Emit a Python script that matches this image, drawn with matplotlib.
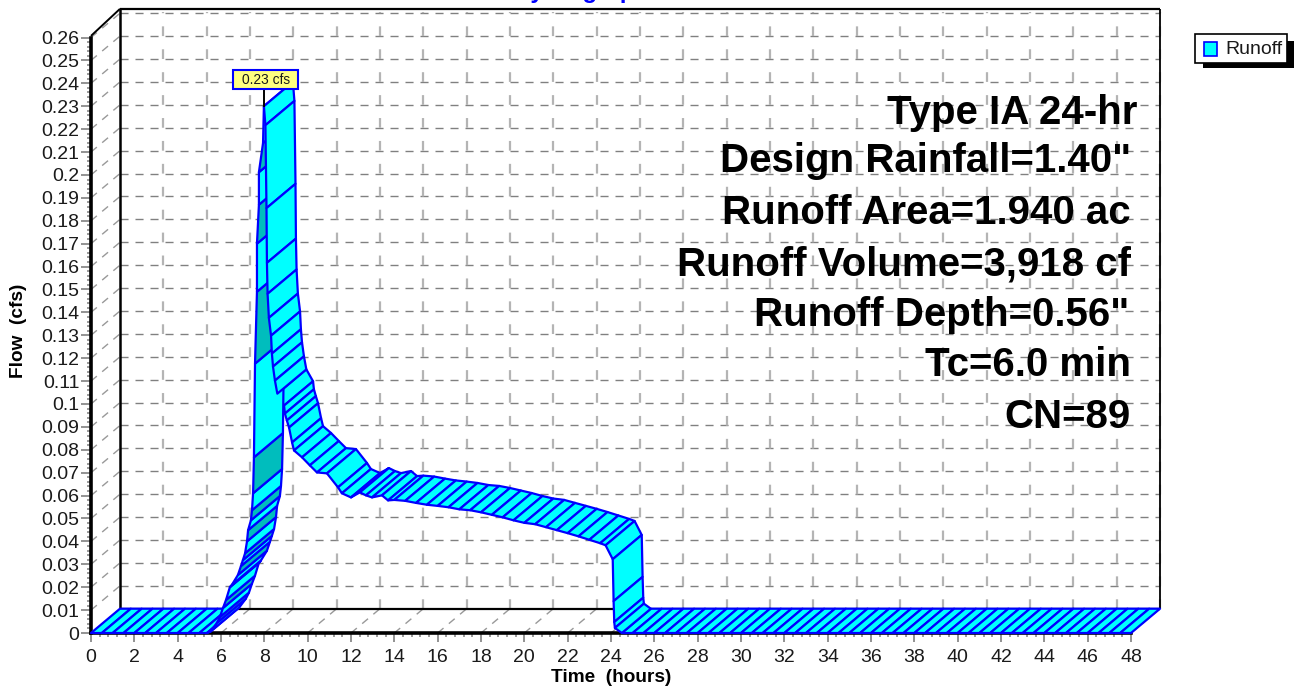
import matplotlib
matplotlib.use("Agg")
import matplotlib.pyplot as plt
from matplotlib.patches import Rectangle

plt.rcParams['font.family'] = ['Liberation Sans', 'DejaVu Sans']
plt.rcParams['lines.scale_dashes'] = False

# ---- data (hours, cfs) ----
flat_start_t = [0.0, 0.5, 1.0, 1.5, 2.0, 2.5, 3.0, 3.5, 4.0, 4.5, 5.0, 5.35]
flat_start_q = [0.0] * 12

rise_t = [5.35, 5.5, 5.81, 5.95, 6.09, 6.23, 6.41, 6.5, 6.78, 6.92, 7.01, 7.11, 7.2, 7.25, 7.38, 7.43,
          7.48, 7.52, 7.57, 7.66, 7.66, 7.75, 7.75, 7.94, 7.98]
rise_q = [0.0, 0.0005, 0.0044, 0.007, 0.0109, 0.0144, 0.020, 0.021, 0.0253, 0.0292, 0.0318, 0.0348, 0.040, 0.0449,
          0.0492, 0.0536, 0.061, 0.0767, 0.1176, 0.149, 0.17, 0.187, 0.2012, 0.2139, 0.23]

fall_t = [7.98, 8.05, 8.1, 8.12, 8.15, 8.21, 8.31, 8.35, 8.4, 8.49, 8.6]
fall_q = [0.23, 0.2217, 0.1855, 0.1616, 0.1481, 0.1376, 0.1298, 0.122, 0.1163, 0.1102, 0.1045]

tail_t = [8.6, 8.91, 8.95, 9.04, 9.14, 9.28, 9.37, 9.74, 10.1, 10.43, 10.89, 11.4, 11.58, 12.0, 12.41, 12.69,
          12.97, 13.43, 13.71, 14.0, 14.5, 15.0, 15.5, 16.0, 16.5, 17.0, 17.5, 18.0, 18.5, 19.0, 19.5, 20.0,
          20.5, 21.0, 21.5, 22.0, 22.5, 23.0, 23.5, 23.75, 24.08, 24.12, 24.15, 24.18, 24.5]
tail_q = [0.1045, 0.0993, 0.0958, 0.0928, 0.0897, 0.0832, 0.0797, 0.0767, 0.0732, 0.0701, 0.0697, 0.0636, 0.061,
          0.0592, 0.0614, 0.0601, 0.0592, 0.0601, 0.0579, 0.0581, 0.0577, 0.0568, 0.056, 0.0555, 0.0549, 0.054,
          0.0536, 0.0527, 0.0516, 0.0505, 0.0492, 0.0481, 0.0475, 0.0462, 0.0449, 0.0436, 0.0422, 0.0407, 0.0392,
          0.0383, 0.0322, 0.0139, 0.0048, 0.0022, 0.0]

flat_end_t = [24.5, 25.0, 25.5, 26.0, 26.5, 27.0, 27.5, 28.0, 28.5, 29.0, 29.5, 30.0, 30.5, 31.0, 31.5, 32.0,
              32.5, 33.0, 33.5, 34.0, 34.5, 35.0, 35.5, 36.0, 36.5, 37.0, 37.5, 38.0, 38.5, 39.0, 39.5, 40.0,
              40.5, 41.0, 41.5, 42.0, 42.5, 43.0, 43.5, 44.0, 44.5, 45.0, 45.5, 46.0, 46.5, 47.0, 47.5, 48.0]
flat_end_q = [0.0] * 48

x_major = list(range(0, 50, 2))
x_minor = [i * 0.4 for i in range(0, 121)]
y_major = [i / 100 for i in range(0, 27)]
y_minor = [i / 500 for i in range(0, 131)]
y_labels = ['0', '0.01', '0.02', '0.03', '0.04', '0.05', '0.06', '0.07', '0.08', '0.09', '0.1', '0.11', '0.12',
            '0.13', '0.14', '0.15', '0.16', '0.17', '0.18', '0.19', '0.2', '0.21', '0.22', '0.23', '0.24', '0.25',
            '0.26']
notes = ['Type IA 24-hr', 'Design Rainfall=1.40"', 'Runoff Area=1.940 ac', 'Runoff Volume=3,918 cf',
         'Runoff Depth=0.56"', 'Tc=6.0 min', 'CN=89']
peak_label = '0.23 cfs'
series_name = 'Runoff'

# ---- layout ----
W, H = 1294, 688
fig = plt.figure(figsize=(W / 100, H / 100), dpi=100)
ax = fig.add_axes([91 / W, (H - 633) / H, 1040 / W, 595.5 / H])
ax.set_xlim(0, 48)
ax.set_ylim(0, 0.26)
ax.patch.set_visible(False)

px_x = 48 / 1040
px_y = 0.26 / 595.5
DX = 29 * px_x
DY = 24.3 * px_y
TOP = 0.2607

CY = '#00FFFF'
TEAL = '#00BDBD'
BL = '#0000FF'

for s in ('top', 'right'):
    ax.spines[s].set_visible(False)
for s in ('left', 'bottom'):
    ax.spines[s].set_linewidth(2.6)
    ax.spines[s].set_zorder(2)

ax.set_xticks(x_major)
ax.set_xticks(x_minor, minor=True)
ax.set_yticks(y_major, labels=y_labels)
ax.set_yticks(y_minor, minor=True)
ax.tick_params(which='major', width=1.2, color='#808080', labelsize=14, labelcolor='#1a1a1a')
ax.tick_params(axis='x', which='major', length=6.5, pad=5)
ax.tick_params(axis='y', which='major', length=7.5, pad=0.8)
ax.tick_params(which='minor', length=2.8, width=1.1, color='#808080')

# back wall grid
hkw = dict(color='#808080', lw=1.0, ls=(0, (5.8, 5)), zorder=1, clip_on=False)
vkw = dict(color='#b4b4b4', lw=1.6, ls=(0, (7, 9.5)), zorder=1, clip_on=False)
dkw = dict(color='#999999', lw=1.0, ls=(0, (5.5, 5)), zorder=1, clip_on=False)
for y in y_major[1:]:
    ax.plot([DX, 48 + DX], [y + DY, y + DY], **hkw)
    ax.plot([0, DX], [y, y + DY], **dkw)
for x in x_major[1:]:
    ax.plot([x + DX, x + DX], [DY, TOP + DY], **vkw)
    ax.plot([x, x + DX], [0, DY], **dkw)

# wall frame
fr = dict(color='black', clip_on=False, zorder=1.5, solid_capstyle='butt')
ax.plot([DX, DX], [DY, TOP + DY + 0.0012], lw=1.8, **fr)
ax.plot([DX, 48 + DX], [TOP + DY + 0.0012, TOP + DY + 0.0012], lw=1.6, **fr)
ax.plot([48 + DX, 48 + DX], [DY, TOP + DY + 0.0012], lw=1.3, **fr)
ax.plot([DX, 48 + DX], [DY, DY], lw=1.6, **fr)
ax.plot([0, DX], [TOP, TOP + DY + 0.0012], lw=1.4, **fr)


def ribbon(ts, qs, z, alternate=False):
    n = len(ts) - 1
    for i in range(n):
        t0, t1 = ts[i], ts[i + 1]
        q0, q1 = qs[i], qs[i + 1]
        col = TEAL if alternate and (n - 1 - i) % 2 == 1 else CY
        ax.fill([t0, t1, t1 + DX, t0 + DX], [q0, q1, q1 + DY, q0 + DY], facecolor=col, edgecolor=BL,
                lw=1.6, zorder=z, clip_on=False, joinstyle='round')


ribbon(flat_start_t, flat_start_q, 2.5)
ribbon(flat_end_t, flat_end_q, 2.6)
ribbon(tail_t, tail_q, 3)
ribbon(rise_t, rise_q, 4, alternate=True)
ribbon(fall_t, fall_q, 5)

# peak label
pk_t = rise_t[-1]
pk_q = rise_q[-1]
ax.plot([pk_t, pk_t], [pk_q, pk_q + 16 * px_y], color='black', lw=1.4, zorder=6, clip_on=False)
ax.add_patch(Rectangle((pk_t - 30.5 * px_x, pk_q + 17.5 * px_y), 65 * px_x, 18.5 * px_y, facecolor='#FFFF80',
                       edgecolor=BL, lw=1.5, zorder=7, clip_on=False))
ax.text(pk_t + 2 * px_x, pk_q + 26.5 * px_y, peak_label, fontsize=9.9, ha='center', va='center', color='#1a1a1a',
        zorder=8, clip_on=False)

# notes
ys_px = [113.5, 161.5, 212.5, 264.5, 315.5, 365.5, 417.5]
xr_px = [1137, 1131, 1131, 1131, 1129, 1131, 1131]
for s, yp, xp in zip(notes, ys_px, xr_px):
    fig.text(xp / W, (H - yp) / H, s, fontsize=29, fontweight='bold', ha='right', va='center', color='black',
             zorder=10)

# labels and title
fig.text(611 / W, (H - 677) / H, 'Time  (hours)', fontsize=13.7, fontweight='bold', ha='center', va='center')
fig.text(19 / W, (H - 331) / H, 'Flow  (cfs)', fontsize=13.7, fontweight='bold', ha='center', va='center',
         rotation=90)
fig.text(581 / W, (H + 2) / H, 'Hydrograph', fontsize=17.3, fontweight='bold', ha='center', va='baseline', color=BL)


# legend
def fig_rect(x0, y0, x1, y1, **kw):
    fig.add_artist(Rectangle((x0 / W, (H - y1) / H), (x1 - x0) / W, (y1 - y0) / H, transform=fig.transFigure, **kw))


fig_rect(1203, 41, 1294, 68, facecolor='black', edgecolor='none')
fig_rect(1194.5, 33.5, 1287, 62.5, facecolor='white', edgecolor='black', lw=1.2)
fig_rect(1204, 42, 1217, 56, facecolor=CY, edgecolor=BL, lw=1.2)
fig.text(1225 / W, (H - 49) / H, series_name, fontsize=14, ha='left', va='center', color='#1a1a1a')

fig.savefig('out.png', dpi=100)
